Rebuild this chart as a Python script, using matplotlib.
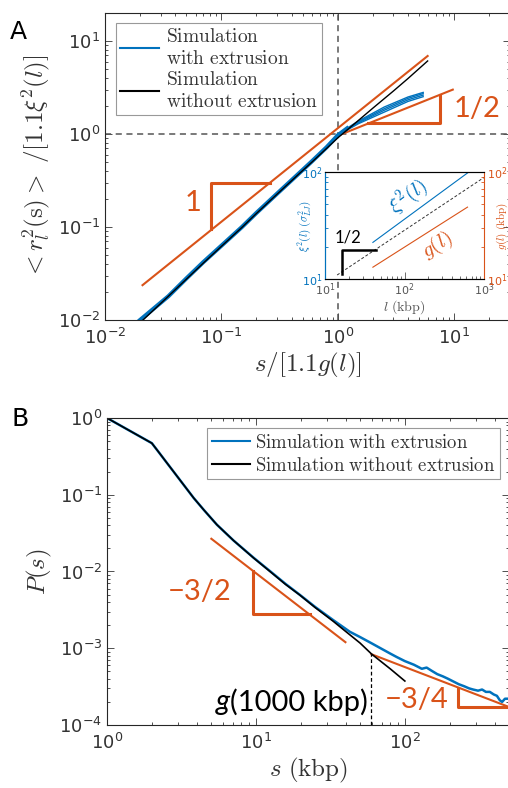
import numpy as np
import matplotlib.pyplot as plt
from matplotlib.lines import Line2D
from matplotlib.ticker import NullFormatter

plt.rcParams['mathtext.fontset'] = 'cm'
plt.rcParams['axes.linewidth'] = 0.8

BLUE = '#0072BD'
ORANGE = '#D95319'
GRAY = '#333333'

# ---- panel A data: rescaled mean squared distance
a_black_x = [0.0212, 0.035, 0.05, 0.07, 0.1, 0.15, 0.2, 0.3, 0.45, 0.6, 0.8, 1.0,
             1.4, 2.0, 3.0, 4.0, 5.9]
a_black_y = [0.01, 0.018, 0.0275, 0.041, 0.062, 0.099, 0.14, 0.225, 0.36, 0.5,
             0.7, 0.91, 1.3, 1.9, 2.9, 3.95, 6.1]
a_blue_x = [0.02, 0.035, 0.05, 0.07, 0.1, 0.15, 0.2, 0.3, 0.45, 0.6, 0.8, 1.0, 1.2]
a_blue_y = [0.01, 0.018, 0.028, 0.042, 0.063, 0.1, 0.142, 0.228, 0.365, 0.51,
            0.72, 0.97, 1.15]
fan_x = [1.0, 1.5, 2.5, 4.0, 5.4]
fan_a = [1.0, 1.38, 1.95, 2.5, 2.8]
fan_b = [0.99, 1.35, 1.87, 2.42, 2.72]
fan_c = [0.98, 1.32, 1.8, 2.33, 2.62]
fan_d = [0.97, 1.29, 1.72, 2.24, 2.52]
a_fit1_x = [0.021, 5.9]
a_fit1_y = [0.0237, 6.9]
a_fit2_x = [1.0, 9.7]
a_fit2_y = [0.96, 3.0]
a_tri1_x = [0.081, 0.081, 0.26]
a_tri1_y = [0.095, 0.30, 0.30]
a_tri2_x = [1.81, 7.5, 7.5]
a_tri2_y = [1.32, 1.32, 2.63]

# ---- inset data
in_xi_l = [40, 620]
in_xi = [22, 98]
in_g_l = [40, 620]
in_g = [12.9, 47]
in_ref_l = [14.2, 1000]
in_ref = [10.9, 89]
in_tri_l = [16.4, 16.4, 44]
in_tri = [11.1, 18.6, 18.6]

# ---- panel B data: contact probability
b_black_s = [1, 2.0, 2.24, 2.51, 2.8, 3.16, 3.82, 4.47, 5.47, 7.08, 9.65, 12.6, 15.8,
             19.7, 25, 33, 40, 50, 59.8, 80, 100]
b_black_p = [1, 0.47, 0.353, 0.264, 0.20, 0.147, 0.0908, 0.0634, 0.0407, 0.0253,
             0.015, 0.0098, 0.0068, 0.00494, 0.00339, 0.00225, 0.00166, 0.00117,
             0.00084, 0.000537, 0.000374]
b_blue_s = [1, 2.0, 2.24, 2.51, 2.8, 3.16, 3.82, 4.47, 5.47, 7.08, 9.65, 12.6, 15.8,
            19.7, 25, 33, 42.7, 50, 59.8, 70, 80, 88, 100, 115, 130, 140, 151, 165,
            180, 195, 211, 230, 250, 270, 287, 310, 330, 350, 372, 395, 415, 434,
            450, 470, 490]
b_blue_p = [1, 0.47, 0.353, 0.264, 0.20, 0.147, 0.0908, 0.0634, 0.0407, 0.0253,
            0.0151, 0.0099, 0.0069, 0.00497, 0.00345, 0.00233, 0.00164, 0.0014,
            0.00116, 0.00098, 0.00085, 0.00077, 0.00068, 0.00061, 0.00054, 0.00056,
            0.00051, 0.00046, 0.00043, 0.00040, 0.00037, 0.00034, 0.00032, 0.00030,
            0.00029, 0.00028, 0.00029, 0.00027, 0.00027, 0.00025, 0.00024, 0.00021,
            0.00020, 0.00022, 0.00022]
b_fit1_s = [5.02, 39.9]
b_fit1_p = [0.0267, 0.0012]
b_fit2_s = [59.7, 495]
b_fit2_p = [0.000835, 0.000173]
b_tri1_s = [9.57, 9.57, 23.0]
b_tri1_p = [0.0102, 0.00277, 0.00277]
b_tri2_s = [228, 228, 495]
b_tri2_p = [0.000301, 0.000173, 0.000173]
g1000 = 59


def style(ax, fs=13):
    ax.set_xscale('log')
    ax.set_yscale('log')
    ax.tick_params(which='both', direction='in', top=True, right=True,
                   labelsize=fs, colors=GRAY, width=0.6)
    ax.tick_params(which='major', length=5)
    ax.tick_params(which='minor', length=2.5)
    ax.xaxis.set_minor_formatter(NullFormatter())
    ax.yaxis.set_minor_formatter(NullFormatter())
    for sp in ax.spines.values():
        sp.set_color('#262626')


fig = plt.figure(figsize=(5.08, 7.88), dpi=100)

# ================= panel A
axA = fig.add_axes([0.2067, 0.5939, 0.797, 0.3896])
style(axA)
axA.tick_params(axis='x', which='major', pad=6)
axA.axvline(1, color='#555555', ls='--', lw=1.1, dashes=(4, 3))
axA.axhline(1, color='#555555', ls='--', lw=1.1, dashes=(4, 3))
axA.plot(a_fit1_x, a_fit1_y, color=ORANGE, lw=1.5)
axA.plot(a_fit2_x, a_fit2_y, color=ORANGE, lw=1.5)
axA.plot(a_tri1_x, a_tri1_y, color=ORANGE, lw=2.2)
axA.plot(a_tri2_x, a_tri2_y, color=ORANGE, lw=2.2)
axA.plot(a_blue_x, a_blue_y, color=BLUE, lw=3.0)
for fy in (fan_a, fan_b, fan_c, fan_d):
    axA.plot(fan_x, fy, color=BLUE, lw=1.0)
axA.plot(a_black_x, a_black_y, color='black', lw=1.0)
axA.set_xlim(0.01, 30)
axA.set_ylim(0.01, 20)
axA.set_xlabel(r'$s/[1.1g(l)]$', fontsize=18, color=GRAY, labelpad=2)
axA.set_ylabel(r'$<r_l^2(\mathrm{s})>\ /[1.1\xi^2(l)]$', fontsize=18, color=GRAY, labelpad=4)
hb = Line2D([], [], color=BLUE, lw=1.5)
hk = Line2D([], [], color='black', lw=1.5)
legA = axA.legend([hb, hk], ['$\\mathrm{Simulation}$\n$\\mathrm{with\\ extrusion}$',
                             '$\\mathrm{Simulation}$\n$\\mathrm{without\\ extrusion}$'],
                  loc='upper left', bbox_to_anchor=(0.027, 0.968), fontsize=14,
                  handlelength=2.0, handletextpad=0.4, borderpad=0.2, labelspacing=0.1,
                  fancybox=False, framealpha=1, edgecolor='#999999', borderaxespad=0)
legA.get_frame().set_linewidth(0.8)
for t in legA.get_texts():
    t.set_color(GRAY)
axA.text(0.0569, 0.179, '1', color=ORANGE, fontsize=21, family='Lato',
         ha='center', va='center')
axA.text(15.6, 1.87, '1/2', color=ORANGE, fontsize=21, family='Lato',
         ha='center', va='center')
fig.text(0.02, 0.975, 'A', fontsize=18, family='DejaVu Sans', va='top')

# ================= inset
axI = fig.add_axes([0.6398, 0.6459, 0.313, 0.1358])
style(axI, fs=8)
axI.tick_params(which='both', right=False, top=False)
axI.tick_params(axis='y', which='both', colors=BLUE, pad=2)
axI.tick_params(axis='x', which='both', colors='#555555', pad=2)
axI.set_xlim(10, 1000)
axI.set_ylim(10, 100)
axI.plot(in_ref_l, in_ref, color='#333333', ls='--', lw=0.7, dashes=(3, 2))
axI.plot(in_tri_l, in_tri, color='black', lw=1.8)
axI.plot(in_xi_l, in_xi, color=BLUE, lw=0.8)
axI.spines['left'].set_color(BLUE)
axI.spines['right'].set_visible(False)
axI.set_xlabel(r'$l\ (\mathrm{kbp})$', fontsize=10, color='#555555', labelpad=0)
axI.set_ylabel(r'$\xi^2(l)\ (\sigma^2_{LJ})$', fontsize=8, color=BLUE)
axI.yaxis.set_label_coords(-0.075, 0.5)
axR = axI.twinx()
axR.set_yscale('log')
axR.set_ylim(10, 100)
axR.yaxis.set_minor_formatter(NullFormatter())
axR.plot(in_g_l, in_g, color=ORANGE, lw=0.8)
axR.tick_params(which='both', direction='in', colors=ORANGE, labelsize=8, width=0.6, pad=2)
axR.tick_params(which='major', length=4)
axR.tick_params(which='minor', length=2)
axR.spines['right'].set_color(ORANGE)
axR.spines['left'].set_color(BLUE)
axR.set_ylabel(r'$g(l)\ (\mathrm{kbp})$', fontsize=8, color=ORANGE)
axR.yaxis.set_label_coords(1.07, 0.5)
axI.text(111, 58, r'$\xi^2(l)$', color=BLUE, fontsize=15, rotation=37,
         ha='center', va='center')
axR.text(257, 20.8, r'$g(l)$', color=ORANGE, fontsize=15, rotation=32,
         ha='center', va='center')
axI.text(19.5, 24.7, '1/2', color='black', fontsize=12, family='Lato',
         ha='center', va='center')

# ================= panel B
axB = fig.add_axes([0.2106, 0.07995, 0.7913, 0.3896])
style(axB)
axB.tick_params(axis='x', which='major', pad=6)
axB.plot(b_fit1_s, b_fit1_p, color=ORANGE, lw=1.5)
axB.plot(b_fit2_s, b_fit2_p, color=ORANGE, lw=1.5)
axB.plot(b_tri1_s, b_tri1_p, color=ORANGE, lw=2.2)
axB.plot(b_tri2_s, b_tri2_p, color=ORANGE, lw=2.2)
axB.plot([g1000, g1000], [1e-4, b_fit2_p[0]], color='black', ls='--', lw=0.9, dashes=(3, 2))
axB.plot(b_blue_s, b_blue_p, color=BLUE, lw=1.8)
axB.plot(b_black_s, b_black_p, color='black', lw=1.2)
axB.set_xlim(1, 500)
axB.set_ylim(1e-4, 1)
axB.set_xlabel(r'$s\ (\mathrm{kbp})$', fontsize=18, color=GRAY, labelpad=2)
axB.set_ylabel(r'$P(s)$', fontsize=18, color=GRAY, labelpad=4)
legB = axB.legend([hb, hk], [r'$\mathrm{Simulation\ with\ extrusion}$',
                             r'$\mathrm{Simulation\ without\ extrusion}$'],
                  loc='upper right', bbox_to_anchor=(0.978, 0.967), fontsize=13.5,
                  handlelength=2.0, handletextpad=0.3, borderpad=0.25, labelspacing=0.2,
                  fancybox=False, framealpha=1, edgecolor='#999999', borderaxespad=0)
legB.get_frame().set_linewidth(0.8)
for t in legB.get_texts():
    t.set_color(GRAY)
axB.text(4.21, 0.0054, '\u22123/2', color=ORANGE, fontsize=21, family='Lato',
         ha='center', va='center')
axB.text(120, 0.000212, '\u22123/4', color=ORANGE, fontsize=21, family='Lato',
         ha='center', va='center')
tg = axB.text(56.5, 0.0002, '(1000 kbp)', color='black', fontsize=21, family='Lato',
              ha='right', va='center')
axB.annotate('g', xy=(0, 0.5), xycoords=tg, ha='right', va='center', fontsize=21,
             family='Lato', style='italic', color='black')
fig.text(0.022, 0.483, 'B', fontsize=18, family='DejaVu Sans', va='top')

fig.savefig('out.png', dpi=100)
